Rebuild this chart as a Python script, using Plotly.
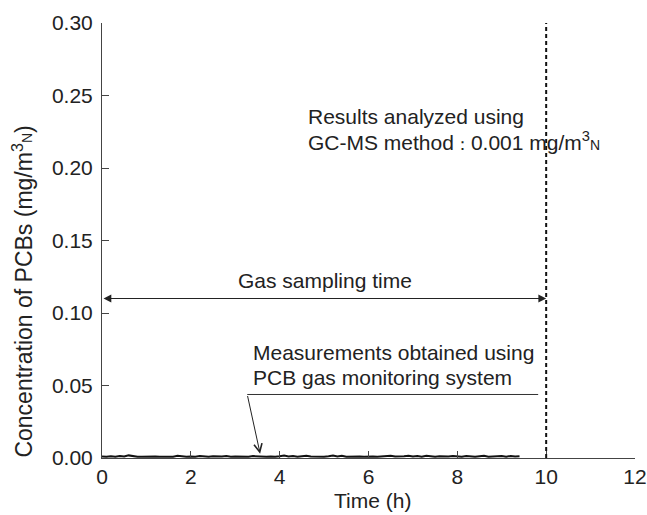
import plotly.graph_objects as go

time_h = [round(0.1 * i, 1) for i in range(95)]
conc = [0.0010, 0.0008, 0.0012, 0.0009, 0.0014, 0.0010, 0.0018, 0.0011, 0.0009, 0.0008,
        0.0010, 0.0007, 0.0011, 0.0009, 0.0008, 0.0012, 0.0009, 0.0015, 0.0010, 0.0008,
        0.0011, 0.0009, 0.0013, 0.0010, 0.0008, 0.0012, 0.0009, 0.0011, 0.0014, 0.0009,
        0.0010, 0.0008, 0.0011, 0.0009, 0.0013, 0.0010, 0.0007, 0.0009, 0.0010, 0.0008,
        0.0012, 0.0017, 0.0010, 0.0013, 0.0009, 0.0011, 0.0016, 0.0010, 0.0008, 0.0011,
        0.0009, 0.0012, 0.0017, 0.0010, 0.0015, 0.0009, 0.0011, 0.0008, 0.0010, 0.0009,
        0.0012, 0.0010, 0.0008, 0.0011, 0.0009, 0.0015, 0.0010, 0.0009, 0.0012, 0.0016,
        0.0010, 0.0013, 0.0009, 0.0015, 0.0010, 0.0008, 0.0012, 0.0009, 0.0011, 0.0014,
        0.0010, 0.0009, 0.0013, 0.0010, 0.0008, 0.0012, 0.0015, 0.0009, 0.0011, 0.0010,
        0.0013, 0.0009, 0.0014, 0.0010, 0.0012]

x_ticks = [0, 2, 4, 6, 8, 10, 12]
y_ticks = [0.00, 0.05, 0.10, 0.15, 0.20, 0.25, 0.30]
y_tick_labels = ["0.00", "0.05", "0.10", "0.15", "0.20", "0.25", "0.30"]

sampling_end = 10
sampling_arrow_y = 0.11
gcms_result = 0.001

FONT = "Liberation Sans, Arial, sans-serif"
TXT = "#222222"
AX = "#444444"
FS = 21
UNIT = 'mg/m<sup>3</sup><span style="font-size:14px">N</span>'

fig = go.Figure()
fig.add_trace(go.Scatter(x=time_h, y=conc, mode="lines",
                         line=dict(color="#111111", width=2), showlegend=False,
                         hoverinfo="skip"))

# dashed vertical line at end of sampling
fig.add_shape(type="line", x0=sampling_end, x1=sampling_end, y0=0, y1=0.30,
              xref="x", yref="y", line=dict(color="#111111", width=2, dash="4px,3px"))

# double-headed arrow: gas sampling time
fig.add_annotation(x=sampling_end, y=sampling_arrow_y, ax=0, ay=sampling_arrow_y,
                   xref="x", yref="y", axref="x", ayref="y", text="",
                   showarrow=True, arrowhead=2, arrowside="end+start",
                   arrowsize=1.3, arrowwidth=1.2, arrowcolor="#222222")
fig.add_annotation(x=5.02, y=0.1223, xref="x", yref="y", text="Gas sampling time",
                   showarrow=False, font=dict(family=FONT, size=FS, color=TXT))

# GC-MS text
fig.add_annotation(x=4.59, y=0.2357, xref="x", yref="y", xanchor="left",
                   text="Results analyzed using", showarrow=False,
                   font=dict(family=FONT, size=FS, color=TXT))
fig.add_annotation(x=4.59, y=0.2185, xref="x", yref="y", xanchor="left",
                   text='GC-MS method<span style="font-size:17px">\uff1a</span>%.3f %s'
                        % (gcms_result, UNIT),
                   showarrow=False, font=dict(family=FONT, size=FS, color=TXT))

# measurement text and leader
fig.add_annotation(x=3.35, y=0.0725, xref="x", yref="y", xanchor="left",
                   text="Measurements obtained using", showarrow=False,
                   font=dict(family=FONT, size=FS, color=TXT))
fig.add_annotation(x=3.35, y=0.0553, xref="x", yref="y", xanchor="left",
                   text="PCB gas monitoring system", showarrow=False,
                   font=dict(family=FONT, size=FS, color=TXT))
fig.add_shape(type="line", x0=3.27, x1=9.82, y0=0.0438, y1=0.0438,
              xref="x", yref="y", line=dict(color="#333333", width=1))
fig.add_annotation(x=3.56, y=0.0030, ax=3.27, ay=0.0438, xref="x", yref="y",
                   axref="x", ayref="y", text="", showarrow=True, arrowhead=5,
                   arrowsize=1.6, arrowwidth=1, arrowcolor="#222222")

# axis titles as annotations
fig.add_annotation(x=-0.150, y=0.1148, xref="paper", yref="y", textangle=-90,
                   xanchor="center", yanchor="middle",
                   text="Concentration of PCBs (%s)" % UNIT, showarrow=False,
                   font=dict(family=FONT, size=23, color=TXT))
fig.add_annotation(x=6.08, y=-0.0966, xref="x", yref="paper",
                   xanchor="center", yanchor="middle",
                   text="Time (h)", showarrow=False,
                   font=dict(family=FONT, size=FS, color=TXT))

fig.update_xaxes(range=[0, 12], tickvals=x_ticks, ticks="inside", ticklen=7,
                 tickcolor=AX, showline=True, linecolor=AX, linewidth=1,
                 showgrid=False, zeroline=False, mirror=False, automargin=False,
                 tickfont=dict(family=FONT, size=FS, color=TXT))
fig.update_yaxes(range=[0, 0.30], tickvals=y_ticks, ticktext=y_tick_labels,
                 ticks="inside", ticklen=7, tickcolor=AX, showline=True,
                 linecolor=AX, linewidth=1, showgrid=False, zeroline=False,
                 automargin=False, ticklabelstandoff=4,
                 tickfont=dict(family=FONT, size=FS, color=TXT))

fig.update_layout(width=647, height=515, plot_bgcolor="white", paper_bgcolor="white",
                  margin=dict(l=102, r=12, t=23, b=57), showlegend=False)

fig.write_html("out.html", config={"displayModeBar": False},
               post_script="document.body.style.margin='0';document.body.style.overflow='hidden';")
